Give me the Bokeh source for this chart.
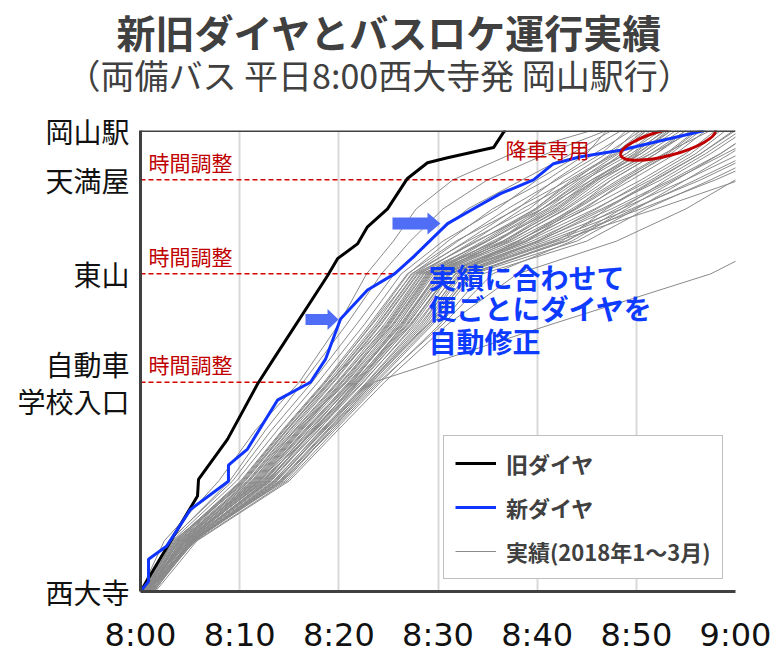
from bokeh.plotting import figure
from bokeh.models import Range1d, FixedTicker, Label, Span, Legend, LegendItem, Title
from bokeh.embed import file_html
from bokeh.resources import INLINE

# ---------------- data ----------------
stop_names = ["西大寺", "自動車\n学校入口", "東山", "天満屋", "岡山駅"]
stop_dist = [0.0, 4.54, 6.89, 8.93, 10.0]
adjust_stops = [4.54, 6.89, 8.93]          # 時間調整 stops

x_ticks = [0, 10, 20, 30, 40, 50, 60]
x_tick_labels = ["8:00", "8:10", "8:20", "8:30", "8:40", "8:50", "9:00"]

# old timetable (minutes after 8:00, distance position)
old_t = [0.0, 5.75, 5.85, 8.77, 11.80, 13.41, 18.86, 19.87, 21.88, 22.89, 24.91,
         26.92, 28.94, 30.96, 35.60, 36.60, 36.81]
old_d = [0.0, 2.07, 2.43, 3.30, 4.50, 5.04, 6.85, 7.22, 7.54, 7.91, 8.30,
         8.96, 9.30, 9.41, 9.63, 9.96, 10.0]

# new timetable
new_t = [0.0, 0.81, 0.81, 2.62, 5.04, 8.87, 8.87, 10.79, 13.81, 17.14, 18.66, 20.17,
         22.89, 25.61, 27.53, 30.96, 33.98, 36.30, 39.63, 41.65, 44.37, 48.40, 52.13, 56.87]
new_d = [0.0, 0.22, 0.70, 0.98, 1.78, 2.39, 2.74, 3.09, 4.15, 4.54, 5.04, 5.91,
         6.54, 6.89, 7.26, 7.98, 8.35, 8.63, 8.93, 9.28, 9.43, 9.57, 9.76, 10.0]

# actual runs (bus location records, Jan-Mar 2018): time at each distance point
run_dist = [0.0, 1.1, 2.4, 3.5, 4.54, 5.8, 6.89, 7.6, 8.3, 8.93, 9.5, 10.0]
run_times = [
    [0.0, 2.4, 7.9, 11.6, 16.0, 20.0, 22.8, 25.5, 27.8, 31.5, 37.5, 45.5],
    [0.3, 2.9, 9.3, 13.2, 17.3, 21.8, 25.6, 29.0, 33.0, 38.5, 43.5, 47.5],
    [0.5, 3.2, 9.7, 13.8, 17.9, 22.6, 26.3, 30.5, 36.0, 40.0, 44.5, 48.5],
    [0.2, 3.5, 10.1, 14.3, 18.5, 23.1, 26.9, 31.8, 38.0, 41.8, 45.8, 49.5],
    [0.8, 3.8, 10.5, 14.7, 18.9, 23.7, 27.3, 33.0, 39.2, 42.8, 47.0, 50.5],
    [0.4, 3.3, 10.8, 15.0, 19.2, 24.0, 27.7, 34.0, 39.8, 43.5, 48.0, 51.5],
    [1.0, 4.0, 11.0, 15.3, 19.5, 24.3, 28.0, 35.0, 40.5, 44.5, 49.0, 52.5],
    [0.6, 3.6, 10.6, 14.8, 19.0, 24.8, 28.3, 36.0, 41.5, 45.5, 50.0, 53.5],
    [0.2, 4.2, 11.4, 15.8, 20.0, 25.0, 28.6, 36.5, 42.5, 46.5, 51.0, 54.5],
    [1.2, 4.5, 11.8, 16.2, 20.4, 25.4, 29.0, 37.0, 43.0, 47.5, 52.0, 55.0],
    [0.7, 4.1, 11.2, 15.6, 20.8, 25.8, 29.3, 37.5, 43.8, 48.5, 53.0, 56.0],
    [0.3, 3.9, 12.0, 16.5, 21.0, 26.0, 29.6, 38.0, 44.5, 49.5, 54.0, 57.0],
    [0.9, 4.8, 12.3, 16.8, 21.3, 26.3, 30.0, 38.5, 45.0, 50.5, 55.0, 58.0],
    [0.5, 4.4, 12.6, 17.0, 21.6, 26.6, 30.3, 39.0, 45.8, 51.5, 56.0, 59.0],
    [1.4, 5.0, 12.9, 17.3, 21.9, 27.0, 30.6, 39.5, 46.5, 52.5, 57.0, 60.5],
    [0.1, 4.6, 12.2, 17.6, 22.2, 27.3, 31.0, 40.0, 47.5, 53.5, 58.5, 62.0],
    [0.8, 5.2, 13.2, 17.9, 22.5, 27.6, 31.3, 40.5, 48.5, 55.0, 60.5, 64.0],
    [0.4, 5.4, 13.5, 18.2, 22.8, 28.0, 31.7, 41.0, 49.5, 56.5, 62.0, 66.0],
    [1.1, 5.5, 13.8, 18.5, 23.1, 28.4, 32.0, 41.5, 50.5, 58.0, 64.0, 68.0],
    [0.6, 5.2, 14.0, 18.8, 23.4, 28.8, 32.5, 42.0, 52.0, 60.5, 66.0, 70.0],
    [0.2, 5.0, 13.0, 18.0, 22.0, 26.5, 29.8, 36.0, 40.5, 44.8, 49.5, 53.0],
    [0.9, 4.3, 11.6, 16.0, 20.6, 25.2, 28.8, 34.5, 39.8, 43.8, 47.5, 50.0],
    [0.3, 3.7, 10.2, 14.4, 18.6, 23.4, 27.4, 32.0, 37.0, 42.0, 46.5, 49.0],
    [1.3, 5.3, 13.4, 18.3, 23.0, 29.0, 33.0, 43.0, 48.5, 53.0, 57.5, 61.0],
    [0.7, 5.4, 14.4, 19.2, 23.8, 29.5, 33.6, 44.0, 50.0, 55.0, 59.5, 63.0],
    [0.5, 5.6, 14.8, 19.6, 24.2, 30.2, 34.5, 45.0, 51.0, 57.5, 63.0, 67.0],
    [1.0, 5.5, 13.6, 18.6, 23.2, 28.6, 32.3, 40.0, 46.0, 51.0, 55.5, 58.5],
    [0.4, 4.7, 12.4, 17.2, 21.4, 26.0, 29.4, 35.5, 42.0, 46.0, 50.5, 54.0],
    [0.6, 4.9, 12.8, 17.4, 21.8, 27.2, 31.2, 39.0, 43.8, 47.5, 52.0, 55.5],
    [0.2, 4.0, 11.0, 15.5, 19.8, 24.6, 28.2, 33.5, 38.5, 44.0, 49.0, 52.0],
    [1.5, 5.7, 15.0, 19.9, 24.6, 31.0, 38.0, 48.0, 55.0, 60.0, 64.0, 67.0],
    [0.8, 5.1, 14.6, 19.2, 23.5, 41.5, 57.5, 64.0, 70.0, 75.0, 80.0, 84.0],
    [0.3, 3.0, 9.0, 12.6, 16.4, 20.8, 24.3, 27.2, 30.5, 35.0, 41.0, 47.0],
    [0.6, 4.3, 11.5, 15.9, 20.2, 25.5, 29.1, 35.0, 41.0, 45.0, 48.5, 51.0],
    [0.9, 5.1, 13.1, 17.7, 22.4, 27.8, 31.8, 38.0, 44.0, 48.8, 53.5, 56.5],
    [0.1, 3.4, 10.3, 14.5, 18.7, 23.3, 27.0, 31.0, 35.5, 41.0, 45.0, 47.0],
    [1.2, 5.0, 14.2, 19.0, 23.6, 29.3, 33.2, 42.5, 47.0, 52.0, 56.5, 60.0],
    [0.5, 4.6, 12.0, 16.6, 21.2, 26.4, 30.1, 37.2, 42.8, 47.0, 51.5, 55.0],
    [0.7, 5.3, 14.3, 19.4, 24.0, 30.5, 35.5, 43.5, 49.0, 54.0, 58.5, 62.0],
    [0.4, 3.8, 10.9, 15.1, 19.4, 24.2, 27.9, 33.8, 40.5, 45.5, 50.5, 53.5],
    [0.5, 3.9, 11.3, 15.6, 19.9, 24.9, 28.5, 34.8, 40.0, 44.2, 48.2, 51.0],
    [0.9, 4.4, 11.9, 16.3, 20.7, 25.6, 29.2, 36.8, 42.2, 46.2, 50.2, 53.2],
    [0.3, 4.6, 12.5, 17.0, 21.5, 26.8, 30.4, 38.8, 44.8, 49.0, 53.2, 56.2],
    [1.1, 4.9, 12.7, 17.5, 22.0, 27.4, 31.1, 40.2, 46.8, 51.8, 56.5, 59.8],
    [0.6, 4.2, 11.7, 16.1, 20.3, 25.1, 28.9, 35.8, 41.2, 46.0, 51.5, 55.8],
    [0.2, 3.6, 10.4, 14.7, 19.1, 23.9, 27.6, 32.8, 37.8, 43.2, 47.8, 50.8],
    [1.0, 5.3, 13.7, 18.4, 22.9, 28.2, 32.2, 41.8, 48.0, 53.8, 59.0, 63.5],
    [0.4, 4.8, 12.9, 17.5, 21.7, 26.9, 30.8, 38.2, 43.5, 48.2, 52.8, 57.5],
    [0.7, 4.5, 12.1, 16.7, 21.1, 26.2, 29.9, 36.6, 41.8, 45.8, 49.8, 52.8],
    [1.3, 5.4, 14.1, 18.9, 23.3, 29.1, 33.4, 42.8, 49.8, 56.0, 61.5, 65.5],
]

# ---------------- style ----------------
JP = "Noto Sans CJK JP"
RED = "#c00000"
DARK = "#404040"
FRAME_W, FRAME_H = 595, 461
PX_T = 60.0 / FRAME_W
PX_D = 10.0 / FRAME_H

p = figure(width=775, height=656, output_backend="svg", toolbar_location=None,
           x_range=Range1d(0, 60), y_range=Range1d(0, 10),
           min_border_left=140, min_border_right=40, min_border_top=0,
           min_border_bottom=64)
p.background_fill_color = "white"
p.border_fill_color = "white"
p.outline_line_color = None

# titles (first added = closest to the frame)
p.add_layout(Title(text=" ", text_font_size="1px", standoff=39), "above")   # spacer
p.add_layout(Title(text="（両備バス 平日8:00西大寺発 岡山駅行）", text_font=JP,
                   text_font_size="34px", text_font_style="normal", text_color=DARK,
                   align="left", offset=-74, standoff=-21), "above")
p.add_layout(Title(text="新旧ダイヤとバスロケ運行実績", text_font=JP,
                   text_font_size="39px", text_font_style="bold", text_color=DARK,
                   align="left", offset=-24, standoff=0), "above")

# axes
p.xaxis.ticker = FixedTicker(ticks=x_ticks)
p.xaxis.major_label_overrides = dict(zip(x_ticks, x_tick_labels))
p.xaxis.major_label_text_font = "DejaVu Sans"
p.xaxis.major_label_text_font_size = "32px"
p.xaxis.major_label_text_color = "#111111"
p.xaxis.major_label_standoff = 18
p.xaxis.major_tick_line_color = None
p.xaxis.minor_tick_line_color = None
p.xaxis.axis_line_color = DARK
p.xaxis.axis_line_width = 3

p.yaxis.ticker = FixedTicker(ticks=stop_dist)
p.yaxis.major_label_overrides = dict(zip(stop_dist, stop_names))
p.yaxis.major_label_text_font = JP
p.yaxis.major_label_text_font_size = "28px"
p.yaxis.major_label_text_line_height = 0.92
p.yaxis.major_label_text_color = "#111111"
p.yaxis.major_label_standoff = 5
p.yaxis.major_tick_line_color = None
p.yaxis.minor_tick_line_color = None
p.yaxis.axis_line_color = DARK
p.yaxis.axis_line_width = 3

p.xgrid.ticker = FixedTicker(ticks=x_ticks)
p.xgrid.grid_line_color = "#d9d9d9"
p.xgrid.grid_line_width = 2
p.ygrid.grid_line_color = None

p.add_layout(Span(location=10, dimension="width", line_color=DARK, line_width=3))

# actual runs
grey_r = p.multi_line(xs=run_times, ys=[run_dist] * len(run_times),
                      line_color="#8a8a8a", line_width=1)

# 時間調整 dashed lines (up to the new timetable's departure at each stop)
for s in adjust_stops:
    t_end = new_t[new_d.index(s)]
    p.line([0, t_end], [s, s], line_color="#d40000", line_width=1.5, line_dash="5 3")
    p.add_layout(Label(x=0, y=s, x_offset=8, y_offset=3, text="時間調整",
                       text_font=JP, text_font_size="21px", text_color=RED,
                       text_baseline="bottom", text_align="left"))

old_r = p.line(old_t, old_d, line_color="black", line_width=3)
new_r = p.line(new_t, new_d, line_color="#1034ff", line_width=3)

# 降車専用 note + ellipse
p.add_layout(Label(x=old_t[-1], y=10, y_offset=-3, text="降車専用", text_font=JP,
                   text_font_size="21px", text_color=RED, text_baseline="top"))
p.ellipse(x=[53.2], y=[9.74], width=98, height=26, width_units="screen",
          height_units="screen", angle=0.26, fill_color=None,
          line_color=RED, line_width=3)

# arrows
def arrow(t_tail, t_tip, d_mid, body_half, head_half, head_len):
    hl = head_len * PX_T
    bh = body_half * PX_D
    hh = head_half * PX_D
    xs = [t_tail, t_tip - hl, t_tip - hl, t_tip, t_tip - hl, t_tip - hl, t_tail]
    ys = [d_mid + bh, d_mid + bh, d_mid + hh, d_mid, d_mid - hh, d_mid - bh, d_mid - bh]
    return xs, ys

for spec in [(25.41, 30.25, 7.98, 6, 11, 13), (16.64, 19.97, 5.90, 5.5, 10.5, 11)]:
    ax, ay = arrow(*spec)
    p.patch(ax, ay, fill_color="#4f6ef5", line_color=None)

for txt, yy in [("実績に合わせて", 6.83), ("便ごとにダイヤを", 6.14), ("自動修正", 5.44)]:
    p.add_layout(Label(x=29.04, y=yy, text=txt, text_font=JP, text_font_size="28px",
                       text_font_style="bold", text_color="#0d3bff",
                       text_baseline="middle", text_align="left"))

legend = Legend(items=[LegendItem(label="旧ダイヤ", renderers=[old_r]),
                       LegendItem(label="新ダイヤ", renderers=[new_r]),
                       LegendItem(label="実績(2018年1～3月)", renderers=[grey_r])],
                location=(303, 12), orientation="vertical",
                label_text_font=JP, label_text_font_size="22px",
                label_text_font_style="bold", label_text_color=DARK,
                glyph_width=41, glyph_height=30, label_height=30,
                label_standoff=10, spacing=12, padding=11, margin=0,
                border_line_color="#808080", border_line_width=1.5,
                background_fill_color="white", background_fill_alpha=1)
p.add_layout(legend, "center")

open("out.html", "w").write(file_html(p, INLINE))
